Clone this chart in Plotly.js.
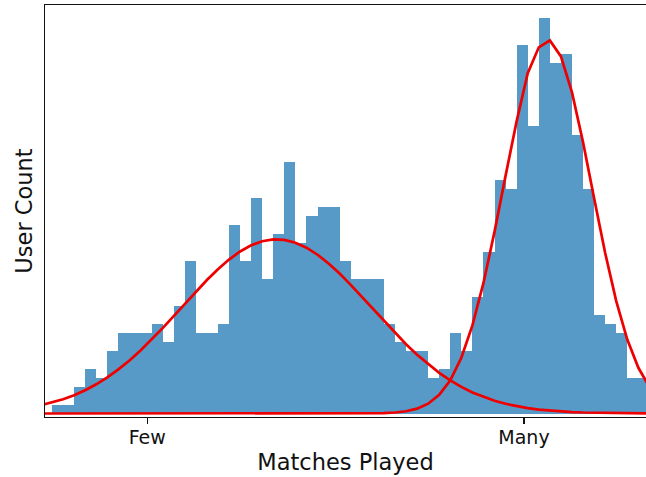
<!DOCTYPE html>
<html>
<head>
<meta charset="utf-8">
<script src="https://cdn.plot.ly/plotly-3.0.1.min.js"></script>
<style>
  html, body { margin: 0; padding: 0; background: #fff; }
  #chart { width: 646px; height: 477px; }
</style>
</head>
<body>
<div id="chart"></div>
<script>
// Histogram of users by matches played (bin index on x, user count on y)
const binCounts = [
  1, 1, 3, 5, 4, 7, 9, 9, 9, 10,
  8, 12, 17, 9, 9, 10, 21, 17, 24, 15,
  20, 28, 19, 22, 23, 23, 17, 15, 15, 15,
  10, 8, 7, 7, 4, 5, 9, 7, 13, 18,
  26, 25, 41, 32, 44, 39, 40, 31, 25, 11,
  10, 9, 4, 4
];

// Fitted curves, sampled at the bin edges -1 .. 54
const curveEdges = [
  -1, 0, 1, 2, 3, 4, 5, 6, 7, 8, 9, 10, 11, 12, 13, 14, 15, 16, 17, 18,
  19, 20, 21, 22, 23, 24, 25, 26, 27, 28, 29, 30, 31, 32, 33, 34, 35, 36, 37, 38,
  39, 40, 41, 42, 43, 44, 45, 46, 47, 48, 49, 50, 51, 52, 53, 54
];
const casualCurve = [
  0.92, 1.22, 1.59, 2.04, 2.59, 3.25, 4.02, 4.91, 5.91, 7.02,
  8.23, 9.51, 10.85, 12.22, 13.57, 14.87, 16.07, 17.14, 18.04, 18.73,
  19.18, 19.39, 19.33, 19.02, 18.46, 17.68, 16.71, 15.58, 14.33, 13.00,
  11.64, 10.29, 8.97, 7.71, 6.54, 5.48, 4.52, 3.69, 2.96, 2.35,
  1.84, 1.42, 1.08, 0.81, 0.60, 0.44, 0.32, 0.23, 0.16, 0.11,
  0.08, 0.05, 0.03, 0.02, 0.01, 0.01
];
const regularCurve = [
  0, 0, 0, 0, 0, 0, 0, 0, 0, 0,
  0, 0, 0, 0, 0, 0, 0, 0, 0, 0,
  0, 0, 0, 0, 0, 0, 0, 0, 0, 0.01,
  0.02, 0.04, 0.11, 0.25, 0.54, 1.09, 2.07, 3.70, 6.21, 9.81,
  14.54, 20.25, 26.49, 32.56, 37.90, 40.78, 41.55, 39.77, 35.76, 30.21,
  23.97, 17.87, 12.52, 8.23, 5.09, 2.95
];

const tickPositions = [8.61, 42.66];
const tickLabels = ['Few', 'Many'];

const binCenters = binCounts.map((_, i) => i + 0.5);

const traces = [
  {
    type: 'bar',
    x: binCenters,
    y: binCounts,
    width: 1,
    marker: { color: 'rgba(31,119,180,0.75)', line: { width: 0 } },
    hoverinfo: 'skip'
  },
  {
    type: 'scatter',
    mode: 'lines',
    x: curveEdges,
    y: casualCurve,
    line: { color: '#ee0000', width: 2.7 },
    hoverinfo: 'skip'
  },
  {
    type: 'scatter',
    mode: 'lines',
    x: curveEdges,
    y: regularCurve,
    line: { color: '#ee0000', width: 2.7 },
    hoverinfo: 'skip'
  }
];

const layout = {
  width: 646,
  height: 477,
  margin: { l: 45, r: 0, t: 5, b: 60 },
  paper_bgcolor: '#fff',
  plot_bgcolor: '#fff',
  showlegend: false,
  bargap: 0,
  font: { family: 'DejaVu Sans, sans-serif', color: '#111' },
  xaxis: {
    range: [-0.633, 53.69],
    tickmode: 'array',
    tickvals: tickPositions,
    ticktext: tickLabels,
    ticks: 'outside',
    ticklen: 6,
    tickwidth: 1.3,
    tickcolor: '#111',
    ticklabelstandoff: -3,
    tickfont: { size: 19, color: '#111' },
    showgrid: false,
    zeroline: false,
    showline: true,
    linecolor: '#111',
    linewidth: 1.4,
    mirror: true,
    title: { text: 'Matches Played', font: { size: 22.5, color: '#111' }, standoff: 7 }
  },
  yaxis: {
    range: [-0.39, 45.49],
    showticklabels: false,
    ticks: '',
    showgrid: false,
    zeroline: false,
    showline: true,
    linecolor: '#111',
    linewidth: 1.4,
    title: { text: 'User Count', font: { size: 22.5, color: '#111' }, standoff: 4 }
  }
};

Plotly.newPlot('chart', traces, layout, { staticPlot: true, displayModeBar: false });
</script>
</body>
</html>
